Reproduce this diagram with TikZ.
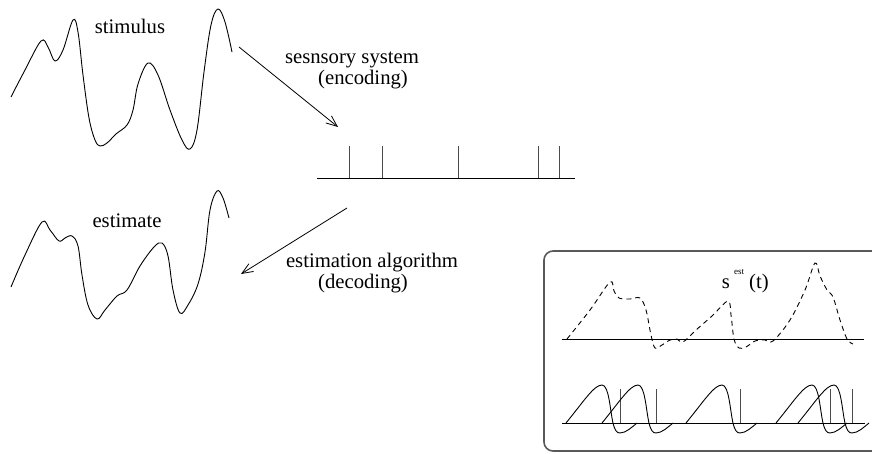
\documentclass[tikz,border=0pt]{standalone}
\usepackage{fontspec}
\setmainfont{Liberation Serif}
\newfontfamily\tnrfont{Liberation Serif}
\usetikzlibrary{arrows.meta}
\begin{document}
\begin{tikzpicture}[x=1pt,y=-1pt,
  lbl/.style={inner sep=0pt,anchor=base,font=\tnrfont\fontsize{20.7}{21}\selectfont},
  curve/.style={line width=0.9pt,line join=round},
  flow/.style={line width=0.8pt,-{Straight Barb[length=11pt,width=9pt,line width=0.8pt]}},
  axis/.style={line width=1pt},
  spike/.style={line width=1pt,draw=black!70},
  frame/.style={draw=black!65,line width=1.6pt,rounded corners=9pt}]
\useasboundingbox (0,0) rectangle (872,453);
% stimulus
\draw[curve] plot[smooth,tension=0.6] coordinates {(11,97) (25,70) (41,41) (48,47) (55,61) (63,50) (73,20) (78,32) (83,75) (89,118) (95,140) (100,146) (107,143) (116,134) (127,125) (133,110) (138,84) (148,63) (158,75) (170,110) (182,140) (190,149) (197,130) (204,72) (211,25) (218,9) (225,22) (232,52)};
\node[lbl] (stim) at (130,33) {stimulus};
% encoding arrow
\coordinate (a1s) at (239,47);
\coordinate (a1e) at (338,127);
\draw[flow] (a1s) -- (a1e);
\node[lbl] (enc1) at (352,63) {sesnsory system};
\node[lbl] (enc2) at (363,84) {(encoding)};
% spike train
\coordinate (tl) at (317,178);
\coordinate (tr) at (575,178);
\draw[axis] (tl) -- (tr);
\foreach \x in {349,382,458,538,559}{
  \draw[spike] (\x,178) -- (\x,146);
}
% estimate
\draw[curve] plot[smooth,tension=0.6] coordinates {(11,287) (25,255) (42,222) (50,230) (59,241) (65,238) (72,236) (78,246) (82,275) (88,305) (97,319) (105,310) (117,296) (127,290) (140,266) (154,247) (162,243) (168,256) (173,290) (180,313) (188,305) (198,284) (205,252) (210,210) (217,191) (223,198) (229,218)};
\node[lbl] (est) at (127,227) {estimate};
% decoding arrow
\coordinate (a2s) at (347,208);
\coordinate (a2e) at (241,274);
\draw[flow] (a2s) -- (a2e);
\node[lbl] (dec1) at (372,267) {estimation algorithm};
\node[lbl] (dec2) at (363,288) {(decoding)};
% inset box (its right side lies beyond the picture)
\coordinate (ftr) at (872,251);
\coordinate (ftl) at (544,251);
\coordinate (fbl) at (544,451);
\coordinate (fbr) at (872,451);
\draw[frame] (ftr) -- (ftl) -- (fbl) -- (fbr);
\coordinate (b1l) at (562,339);
\coordinate (b1r) at (864,339);
\draw[axis] (b1l) -- (b1r);
\draw[line width=0.9pt,dash pattern=on 5pt off 4pt] plot[smooth,tension=0.55] coordinates {(567,339) (590,310) (610,282) (614,291) (619,298) (630,299) (640,298) (646,310) (651,335) (655,348) (662,345) (670,340) (677,339) (683,342) (696,330) (712,316) (728,301) (731,315) (734,339) (739,348) (746,347) (755,341) (765,340) (773,341) (790,320) (805,290) (815,263) (820,276) (827,290) (833,297) (840,320) (847,339) (853,344)};
\node[lbl] (sest) at (726,288) {s};
\node[inner sep=0pt,anchor=base,font=\tnrfont\fontsize{9}{10}\selectfont] (sup) at (739,274) {est};
\node[lbl] (targ) at (759,288) {(t)};
\coordinate (b2l) at (562,423);
\coordinate (b2r) at (865,423);
\draw[axis] (b2l) -- (b2r);
\foreach \x in {566,602,686,776,798}{
  \draw[curve] (\x,423) .. controls (\x+18,401) and (\x+28,385) .. (\x+36,385)
     .. controls (\x+43,385) and (\x+44,410) .. (\x+47,423)
     .. controls (\x+49,431) and (\x+51,433) .. (\x+54,433)
     .. controls (\x+60,433) and (\x+66,427) .. (\x+71,423);
  \draw[spike] (\x+54,423) -- (\x+54,389);
}
\end{tikzpicture}
\end{document}
